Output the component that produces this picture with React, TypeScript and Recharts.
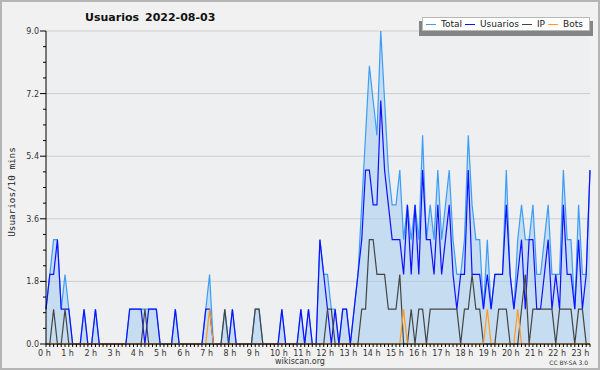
import React from 'react';
import { ComposedChart, Area, Line, XAxis, YAxis, CartesianGrid, Legend } from 'recharts';

// one value per 10 minutes, 0:00 .. 23:50 (12 values per row = 2 hours)
const TOTAL = [
  1, 2, 3, 3, 1, 2, 1, 0, 0, 0, 1, 0,
  0, 1, 0, 0, 0, 0, 0, 0, 0, 0, 1, 1,
  1, 1, 1, 1, 1, 1, 0, 0, 0, 0, 1, 0,
  0, 0, 0, 0, 0, 0, 1, 2, 0, 0, 0, 1,
  0, 1, 0, 0, 0, 0, 0, 1, 1, 0, 0, 0,
  0, 0, 1, 0, 0, 0, 0, 1, 0, 1, 0, 0,
  3, 2, 2, 1, 1, 0, 1, 1, 0, 1, 2, 4,
  6, 8, 7, 6, 9, 7, 5, 4, 4, 5, 3, 4,
  3, 4, 3, 6, 3, 4, 3, 5, 3, 4, 5, 3,
  2, 2, 3, 6, 4, 3, 3, 1, 3, 1, 2, 2,
  2, 5, 2, 1, 3, 4, 3, 3, 4, 2, 2, 3,
  4, 2, 2, 2, 5, 3, 3, 1, 4, 2, 2, 5,
];

const USUARIOS = [
  1, 2, 2, 3, 1, 1, 1, 0, 0, 0, 1, 0,
  0, 1, 0, 0, 0, 0, 0, 0, 0, 0, 1, 1,
  1, 1, 0, 1, 1, 1, 0, 0, 0, 0, 1, 0,
  0, 0, 0, 0, 0, 0, 1, 1, 0, 0, 0, 0,
  0, 1, 0, 0, 0, 0, 0, 0, 0, 0, 0, 0,
  0, 0, 1, 0, 0, 0, 0, 1, 0, 1, 0, 0,
  3, 2, 1, 0, 1, 0, 1, 1, 0, 1, 2, 3,
  5, 5, 4, 4, 7, 5, 4, 3, 3, 3, 2, 4,
  2, 4, 2, 5, 3, 3, 2, 4, 2, 3, 4, 2,
  1, 2, 2, 5, 2, 2, 2, 1, 2, 1, 2, 2,
  2, 4, 2, 1, 2, 3, 1, 3, 3, 1, 1, 2,
  3, 1, 2, 1, 4, 2, 2, 1, 3, 1, 2, 5,
];

const IP = [
  0, 0, 1, 0, 0, 1, 0, 0, 0, 0, 0, 0,
  0, 0, 0, 0, 0, 0, 0, 0, 0, 0, 0, 0,
  0, 0, 1, 0, 0, 0, 0, 0, 0, 0, 0, 0,
  0, 0, 0, 0, 0, 0, 0, 0, 0, 0, 0, 1,
  0, 0, 0, 0, 0, 0, 0, 1, 1, 0, 0, 0,
  0, 0, 0, 0, 0, 0, 0, 0, 0, 0, 0, 0,
  0, 0, 1, 1, 0, 0, 0, 0, 0, 0, 0, 1,
  1, 3, 3, 2, 2, 2, 1, 1, 1, 2, 0, 0,
  1, 0, 1, 1, 0, 1, 1, 1, 1, 1, 1, 1,
  1, 0, 1, 1, 2, 1, 1, 0, 0, 0, 0, 1,
  1, 1, 0, 0, 0, 1, 2, 0, 1, 1, 1, 1,
  1, 1, 0, 1, 1, 1, 1, 0, 1, 1, 0, 0,
];

const BOTS = [
  0, 0, 0, 0, 0, 0, 0, 0, 0, 0, 0, 0,
  0, 0, 0, 0, 0, 0, 0, 0, 0, 0, 0, 0,
  0, 0, 0, 0, 0, 0, 0, 0, 0, 0, 0, 0,
  0, 0, 0, 0, 0, 0, 0, 1, 0, 0, 0, 0,
  0, 0, 0, 0, 0, 0, 0, 0, 0, 0, 0, 0,
  0, 0, 0, 0, 0, 0, 0, 0, 0, 0, 0, 0,
  0, 0, 0, 0, 0, 0, 0, 0, 0, 0, 0, 0,
  0, 0, 0, 0, 0, 0, 0, 0, 0, 0, 1, 0,
  0, 0, 0, 0, 0, 0, 0, 0, 0, 0, 0, 0,
  0, 0, 0, 0, 0, 0, 0, 0, 1, 0, 0, 0,
  0, 0, 0, 0, 1, 0, 0, 0, 0, 0, 0, 0,
  0, 0, 0, 0, 0, 0, 0, 0, 0, 0, 0, 0,
];

const HOUR_LABELS = [
  '0 h', '1 h', '2 h', '3 h', '4 h', '5 h', '6 h', '7 h', '8 h', '9 h', '10 h', '11 h',
  '12 h', '13 h', '14 h', '15 h', '16 h', '17 h', '18 h', '19 h', '20 h', '21 h', '22 h', '23 h',
];

const SERIES_ORDER = ['Total', 'Usuarios', 'IP', 'Bots'];

const Y_TICKS = [0, 0.45, 0.9, 1.35, 1.8, 2.25, 2.7, 3.15, 3.6, 4.05, 4.5, 4.95, 5.4, 5.85, 6.3, 6.75, 7.2, 7.65, 8.1, 8.55, 9];
const Y_LABELS = [0, 1.8, 3.6, 5.4, 7.2, 9];

const data = TOTAL.map((total, i) => ({
  slot: i,
  total,
  usuarios: USUARIOS[i],
  ip: IP[i],
  bots: BOTS[i],
}));
const X_TICKS = data.map(d => d.slot);

const FONT = '"DejaVu Sans", Verdana, sans-serif';

const XTick = ({ x, y, payload }: any) => {
  const v = payload.value;
  const hour = v % 6 === 0 ? v / 6 : -1;
  return (
    <g>
      <line x1={x} y1={y} x2={x} y2={y + 3} stroke="#000" />
      {hour >= 0 && (
        <text x={x - 8 + hour * 0.37} y={y + 12} fontSize={8} fill="#333" fontFamily={FONT}>
          {HOUR_LABELS[hour]}
        </text>
      )}
    </g>
  );
};

const YTick = ({ x, y, payload }: any) => {
  const v = payload.value;
  const major = Y_LABELS.includes(v);
  return (
    <g>
      <line x1={x - (major ? 6 : 3)} y1={y} x2={x} y2={y} stroke="#000" />
      {major && (
        <text x={x - 7} y={y + 3} textAnchor="end" fontSize={8} fill="#333" fontFamily={FONT}>
          {v.toFixed(1)}
        </text>
      )}
    </g>
  );
};

const LegendBox = ({ payload }: any) => {
  const items = [...(payload || [])].sort(
    (a: any, b: any) => SERIES_ORDER.indexOf(a.value) - SERIES_ORDER.indexOf(b.value)
  );
  return (
    <div style={{ position: 'relative', width: 0, height: 0 }}>
      <div style={{ position: 'absolute', left: 419, top: 21, width: 174, height: 15, background: '#858585' }} />
      <div
        style={{
          position: 'absolute', left: 422, top: 17, width: 168, height: 14,
          background: '#fff', border: '1px solid #b8b8b8', boxSizing: 'border-box',
          display: 'flex', alignItems: 'center', paddingLeft: 3,
          fontFamily: FONT, fontSize: 9, color: '#222', whiteSpace: 'nowrap',
        }}
      >
        {items.map((p: any) => (
          <span key={p.value} style={{ display: 'flex', alignItems: 'center', marginRight: 3 }}>
            <span style={{ width: 10, height: 0, borderTop: `1px solid ${p.color}`, marginRight: 5 }} />
            <span>{p.value}</span>
          </span>
        ))}
      </div>
    </div>
  );
};

export default function App() {
  return (
    <div style={{ position: 'relative', width: 600, height: 370, background: '#f1f1f1', overflow: 'hidden' }}>
      <style>{'body{margin:0}'}</style>
      <ComposedChart width={600} height={370} data={data} margin={{ top: 31, right: 10, bottom: 0, left: 0 }}>
        <CartesianGrid vertical={false} horizontalValues={Y_LABELS} stroke="#cdcdcd" fill="#eeeff1" fillOpacity={1} />
        <Area
          name="Total"
          dataKey="total"
          type="linear"
          stroke="#3d9df5"
          strokeWidth={1.2}
          fill="#9ec9f0"
          fillOpacity={0.5}
          dot={false}
          activeDot={false}
          isAnimationActive={false}
        />
        <Line name="Usuarios" dataKey="usuarios" type="linear" stroke="#1010ff" strokeWidth={1.2} dot={false} activeDot={false} isAnimationActive={false} />
        <Line name="IP" dataKey="ip" type="linear" stroke="#444444" strokeWidth={1.2} dot={false} activeDot={false} isAnimationActive={false} />
        <Line name="Bots" dataKey="bots" type="linear" stroke="#ff9a1a" strokeWidth={1.2} dot={false} activeDot={false} isAnimationActive={false} />
        <XAxis
          dataKey="slot"
          type="number"
          domain={[0, 143]}
          ticks={X_TICKS}
          interval={0}
          height={26}
          tickSize={0}
          tickMargin={0}
          tickLine={false}
          axisLine={{ stroke: '#000' }}
          tick={XTick}
        />
        <YAxis
          type="number"
          domain={[0, 9]}
          ticks={Y_TICKS}
          interval={0}
          width={46}
          tickSize={0}
          tickMargin={0}
          tickLine={false}
          axisLine={{ stroke: '#000' }}
          tick={YTick}
        />
        <Legend
          layout="horizontal"
          verticalAlign="middle"
          align="center"
          wrapperStyle={{ left: 0, top: 0 }}
          content={LegendBox}
        />
      </ComposedChart>
      <svg width={600} height={370} style={{ position: 'absolute', left: 0, top: 0, pointerEvents: 'none' }}>
        <text x={85} y={21} fontSize={11} fontWeight="bold" fill="#111" fontFamily={FONT}>Usuarios</text>
        <text x={145} y={21} fontSize={11} fontWeight="bold" fill="#111" fontFamily={FONT}>2022-08-03</text>
        <text
          transform="rotate(-90)"
          x={-192}
          y={15}
          textAnchor="middle"
          fontSize={9.3}
          fill="#222"
          fontFamily='"DejaVu Sans Mono", monospace'
        >
          Usuarios/10 mins
        </text>
        <text x={300} y={364} textAnchor="middle" fontSize={8} fill="#333" fontFamily={FONT}>wikiscan.org</text>
        <text x={588} y={365} textAnchor="end" fontSize={6} fill="#333" fontFamily={FONT}>CC BY-SA 3.0</text>
      </svg>
      <div style={{ position: 'absolute', inset: 0, border: '2px solid #b5b5b5', boxSizing: 'border-box', pointerEvents: 'none' }} />
    </div>
  );
}
